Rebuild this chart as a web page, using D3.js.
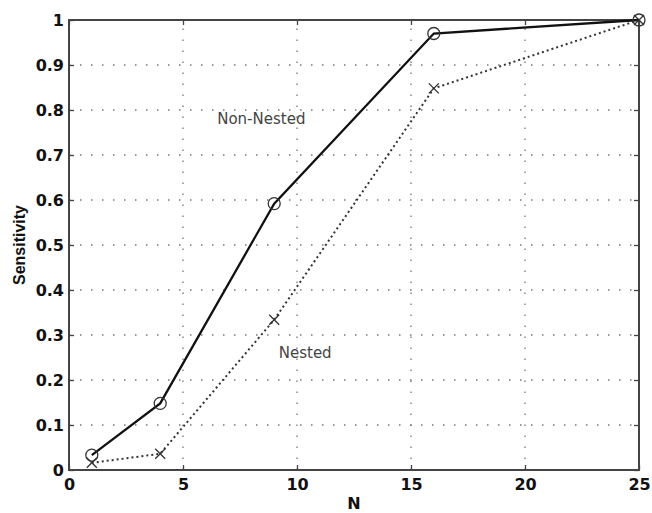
<!DOCTYPE html>
<html>
<head>
<meta charset="utf-8">
<script src="https://cdn.jsdelivr.net/npm/d3@7"></script>
<style>
  body { margin: 0; background: #fff; }
  svg { display: block; }
</style>
</head>
<body>
<div id="chart"></div>
<script>
// Data
const nValues = [1, 4, 9, 16, 25];
const nonNested = [0.033, 0.148, 0.592, 0.970, 1.0];
const nested = [0.016, 0.036, 0.334, 0.848, 1.0];
const xTicks = [0, 5, 10, 15, 20, 25];
const yTicks = [0, 0.1, 0.2, 0.3, 0.4, 0.5, 0.6, 0.7, 0.8, 0.9, 1];

const width = 652, height = 513;
const margin = { top: 20, right: 13, bottom: 43, left: 69 };
const plotW = width - margin.left - margin.right;
const plotH = height - margin.top - margin.bottom;

const svg = d3.select('#chart').append('svg')
    .attr('width', width)
    .attr('height', height);

const g = svg.append('g')
    .attr('transform', `translate(${margin.left},${margin.top})`);

const x = d3.scaleLinear().domain([0, 25]).range([0, plotW]);
const y = d3.scaleLinear().domain([0, 1]).range([plotH, 0]);

// Dotted grid
const grid = g.append('g').attr('class', 'grid')
    .attr('stroke', '#777')
    .attr('stroke-width', 1.3)
    .attr('stroke-dasharray', '1.5,9.5');

grid.selectAll('.gx')
    .data(xTicks.slice(1, -1))
    .enter().append('line')
    .attr('x1', d => x(d)).attr('x2', d => x(d))
    .attr('y1', plotH).attr('y2', 0);

grid.selectAll('.gy')
    .data(yTicks.slice(1, -1))
    .enter().append('line')
    .attr('y1', d => y(d)).attr('y2', d => y(d))
    .attr('x1', 0).attr('x2', plotW);

// Axes (ticks point inward, as in MATLAB)
const fmtY = d => d === 0 || d === 1 ? String(d) : d3.format('.1f')(d);

const styleAxis = sel => {
    sel.select('.domain').remove();
    sel.selectAll('line').attr('stroke', '#444').attr('stroke-width', 1.3);
    sel.selectAll('text')
        .attr('fill', '#111')
        .style('font-family', '"DejaVu Sans", sans-serif')
        .style('font-weight', 'bold')
        .style('font-size', '16px');
};

g.append('g')
    .attr('transform', `translate(0,${plotH})`)
    .call(d3.axisBottom(x).tickValues(xTicks).tickSize(-5).tickPadding(9))
    .call(styleAxis);

g.append('g')
    .call(d3.axisLeft(y).tickValues(yTicks).tickFormat(fmtY).tickSize(-5).tickPadding(5))
    .call(styleAxis);

g.append('g')
    .call(d3.axisTop(x).tickValues(xTicks).tickSize(-5).tickFormat(''))
    .call(styleAxis);

g.append('g')
    .attr('transform', `translate(${plotW},0)`)
    .call(d3.axisRight(y).tickValues(yTicks).tickSize(-5).tickFormat(''))
    .call(styleAxis);

// Box
g.append('rect')
    .attr('width', plotW)
    .attr('height', plotH)
    .attr('fill', 'none')
    .attr('stroke', '#444')
    .attr('stroke-width', 2);

// Lines
const line = d3.line()
    .x(d => x(d[0]))
    .y(d => y(d[1]));

const nonNestedPts = nValues.map((n, i) => [n, nonNested[i]]);
const nestedPts = nValues.map((n, i) => [n, nested[i]]);

g.append('path')
    .datum(nestedPts)
    .attr('d', line)
    .attr('fill', 'none')
    .attr('stroke', '#333')
    .attr('stroke-width', 2)
    .attr('stroke-dasharray', '2,3');

g.append('path')
    .datum(nonNestedPts)
    .attr('d', line)
    .attr('fill', 'none')
    .attr('stroke', '#111')
    .attr('stroke-width', 2.3);

// Markers
g.selectAll('.circ')
    .data(nonNestedPts)
    .enter().append('circle')
    .attr('cx', d => x(d[0]))
    .attr('cy', d => y(d[1]))
    .attr('r', 6)
    .attr('fill', 'none')
    .attr('stroke', '#333')
    .attr('stroke-width', 1.3);

const s = 5;
g.selectAll('.cross')
    .data(nestedPts)
    .enter().append('path')
    .attr('d', d => {
        const cx = x(d[0]), cy = y(d[1]);
        return `M${cx - s},${cy - s}L${cx + s},${cy + s}M${cx - s},${cy + s}L${cx + s},${cy - s}`;
    })
    .attr('fill', 'none')
    .attr('stroke', '#333')
    .attr('stroke-width', 1.3);

// Annotations
const annot = g.append('g')
    .style('font-family', '"DejaVu Sans", sans-serif')
    .style('font-size', '15px')
    .attr('fill', '#444');

annot.append('text')
    .attr('x', x(6.5))
    .attr('y', y(0.78) + 5)
    .text('Non-Nested');

annot.append('text')
    .attr('x', x(9.2))
    .attr('y', y(0.26) + 5)
    .text('Nested');

// Axis titles
svg.append('text')
    .attr('x', margin.left + x(12.5))
    .attr('y', 509)
    .attr('text-anchor', 'middle')
    .style('font-family', '"DejaVu Sans", sans-serif')
    .style('font-weight', 'bold')
    .style('font-size', '16px')
    .attr('fill', '#111')
    .text('N');

svg.append('text')
    .attr('transform', `translate(25,${margin.top + y(0.5)}) rotate(-90)`)
    .attr('text-anchor', 'middle')
    .style('font-family', '"Liberation Sans", Arial, sans-serif')
    .style('font-weight', 'bold')
    .style('font-size', '16px')
    .attr('fill', '#111')
    .text('Sensitivity');
</script>
</body>
</html>
